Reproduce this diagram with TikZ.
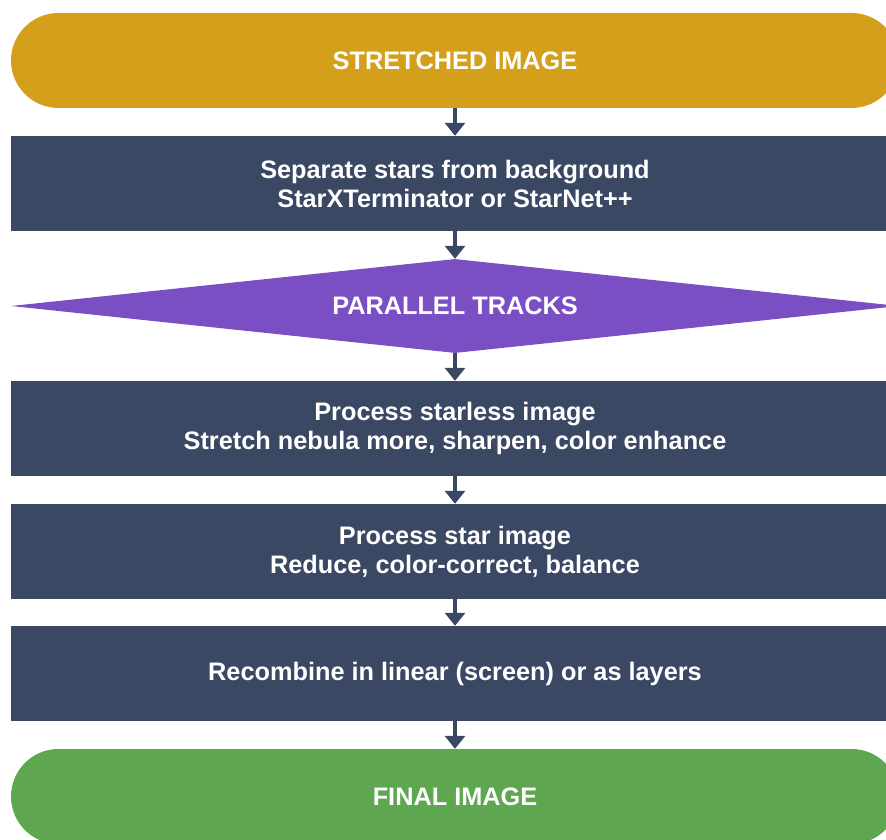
\documentclass[tikz,border=0pt]{standalone}
\usepackage{fontspec}
\setmainfont{Liberation Sans}
\usetikzlibrary{arrows.meta,shapes.geometric}
\definecolor{goldc}{HTML}{D49F1A}
\definecolor{slatec}{HTML}{3B4864}
\definecolor{purplec}{HTML}{7B4FC4}
\definecolor{greenc}{HTML}{5FA651}
\tikzset{
  base/.style={inner sep=0pt, text=white, font=\bfseries\fontsize{25.3}{29}\selectfont, align=center, minimum width=888pt},
  term/.style={base, rectangle, rounded corners=47.5pt, minimum height=95pt},
  stepbox/.style={base, rectangle, minimum height=95pt},
  decide/.style={base, diamond, aspect=9.45, minimum height=94pt},
  conn/.style={draw=slatec, line width=3.5pt, -{Triangle[width=20pt,length=13pt]}}
}
\begin{document}
\begin{tikzpicture}[x=1pt,y=-1pt]
\useasboundingbox (0,0) rectangle (886,840);
\node[term, fill=goldc] (start) at (455,60.5) {STRETCHED IMAGE};
\node[stepbox, fill=slatec] (sep) at (455,183.5) {Separate stars from background\\StarXTerminator or StarNet++};
\node[decide, fill=purplec] (par) at (455,306) {PARALLEL TRACKS};
\node[stepbox, fill=slatec] (sl) at (455,428.5) {Process starless image\\Stretch nebula more, sharpen, color enhance};
\node[stepbox, fill=slatec] (st) at (455,551.5) {Process star image\\Reduce, color-correct, balance};
\node[stepbox, fill=slatec] (rec) at (455,673.5) {Recombine in linear (screen) or as layers};
\node[term, fill=greenc] (fin) at (455,796.5) {FINAL IMAGE};
\draw[conn] (start) -- (sep);
\draw[conn] (sep) -- (par);
\draw[conn] (par) -- (sl);
\draw[conn] (sl) -- (st);
\draw[conn] (st) -- (rec);
\draw[conn] (rec) -- (fin);
\end{tikzpicture}
\end{document}
